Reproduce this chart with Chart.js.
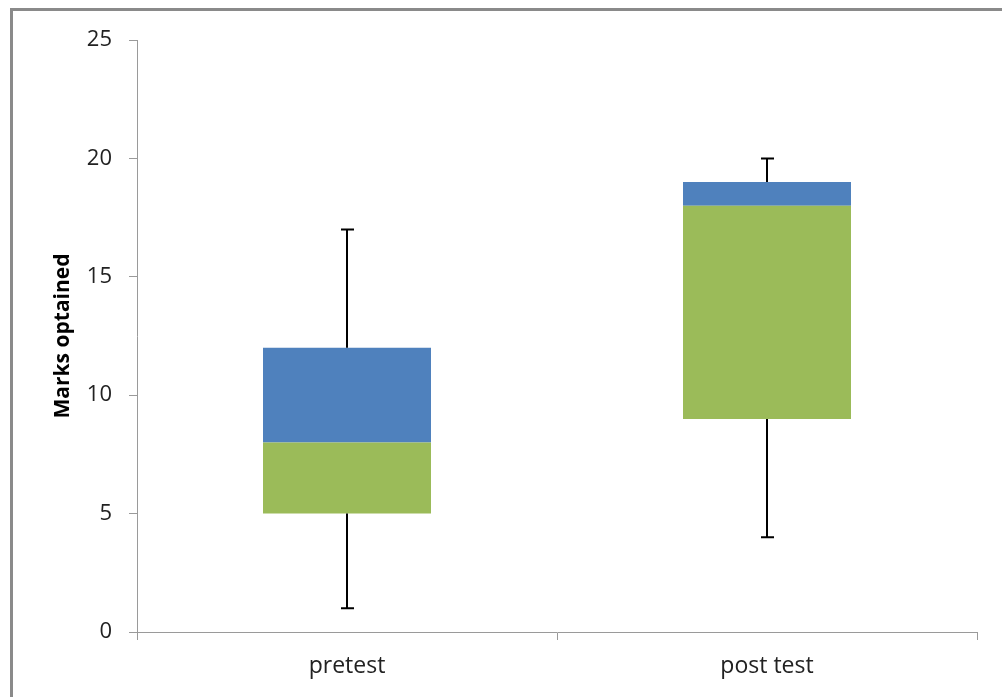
<!DOCTYPE html>
<html>
<head>
<meta charset="utf-8">
<script src="https://cdn.jsdelivr.net/npm/chart.js@4/dist/chart.umd.min.js"></script>
<style>
  html, body { margin: 0; padding: 0; background: #fff; }
  #wrap { position: relative; width: 1002px; height: 697px; overflow: hidden; }
  #frame { position: absolute; left: 10px; top: 8px; width: 1100px; height: 800px;
           border-top: 3px solid #8a8a8a; border-left: 3px solid #8a8a8a; box-sizing: border-box; }
  canvas { position: absolute; left: 0; top: 0; }
</style>
</head>
<body>
<div id="wrap">
  <div id="frame"></div>
  <canvas id="c" width="1002" height="697"></canvas>
</div>
<script>
const categories = ["pretest", "post test"];
const minValues = [1, 4];
const q1Values = [5, 9];
const medianValues = [8, 18];
const q3Values = [12, 19];
const maxValues = [17, 20];
const yTicks = [0, 5, 10, 15, 20, 25];

const baseData = q1Values.slice();
const lowerBox = medianValues.map((m, i) => m - q1Values[i]);
const upperBox = q3Values.map((q, i) => q - medianValues[i]);

const FONT = "'Open Sans', 'DejaVu Sans', sans-serif";

const whiskerPlugin = {
  id: 'whiskers',
  afterDatasetsDraw(chart) {
    const ctx = chart.ctx;
    const xs = chart.scales.x, ys = chart.scales.y;
    ctx.save();
    ctx.strokeStyle = '#000';
    ctx.lineWidth = 2;
    categories.forEach((c, i) => {
      const x = Math.round(xs.getPixelForValue(i));
      const yMin = ys.getPixelForValue(minValues[i]);
      const yMax = ys.getPixelForValue(maxValues[i]);
      const yQ1 = ys.getPixelForValue(q1Values[i]);
      const yQ3 = ys.getPixelForValue(q3Values[i]);
      ctx.beginPath();
      ctx.moveTo(x, yMin); ctx.lineTo(x, yQ1);
      ctx.moveTo(x, yQ3); ctx.lineTo(x, yMax);
      ctx.moveTo(x - 6, yMin); ctx.lineTo(x + 7, yMin);
      ctx.moveTo(x - 6, yMax); ctx.lineTo(x + 7, yMax);
      ctx.stroke();
    });
    ctx.restore();
  }
};

new Chart(document.getElementById('c'), {
  type: 'bar',
  data: {
    labels: categories,
    datasets: [
      { label: 'base', data: baseData, backgroundColor: 'rgba(0,0,0,0)', stack: 's' },
      { label: 'lower', data: lowerBox, backgroundColor: '#9BBB59', stack: 's' },
      { label: 'upper', data: upperBox, backgroundColor: '#4F81BD', stack: 's' }
    ]
  },
  options: {
    responsive: false,
    animation: false,
    devicePixelRatio: 1,
    categoryPercentage: 1,
    barPercentage: 0.4,
    layout: { padding: { left: 0, top: 40, right: 25, bottom: 0 } },
    plugins: { legend: { display: false }, tooltip: { enabled: false } },
    scales: {
      x: {
        stacked: true,
        offset: true,
        grid: { offset: true, drawOnChartArea: false, drawTicks: true, tickLength: 8, color: '#9a9a9a', lineWidth: 1 },
        border: { color: '#9a9a9a', width: 1 },
        ticks: { color: '#222', font: { family: FONT, size: 23 }, padding: 13 },
        afterFit(s) { s.height = 65; }
      },
      y: {
        stacked: true,
        min: 0, max: 25,
        afterBuildTicks(s) { s.ticks = yTicks.map(v => ({ value: v })); },
        grid: { drawOnChartArea: false, drawTicks: true, tickLength: 8, color: '#9a9a9a', lineWidth: 1 },
        border: { color: '#9a9a9a', width: 1 },
        ticks: { color: '#222', font: { family: FONT, size: 22 }, padding: 17 },
        title: { display: true, text: 'Marks optained', color: '#000',
                 font: { family: FONT, size: 21, weight: 'bold' }, padding: { top: 50, bottom: 0 } },
        afterFit(s) { s.width = 137; }
      }
    }
  },
  plugins: [whiskerPlugin]
});
</script>
</body>
</html>
